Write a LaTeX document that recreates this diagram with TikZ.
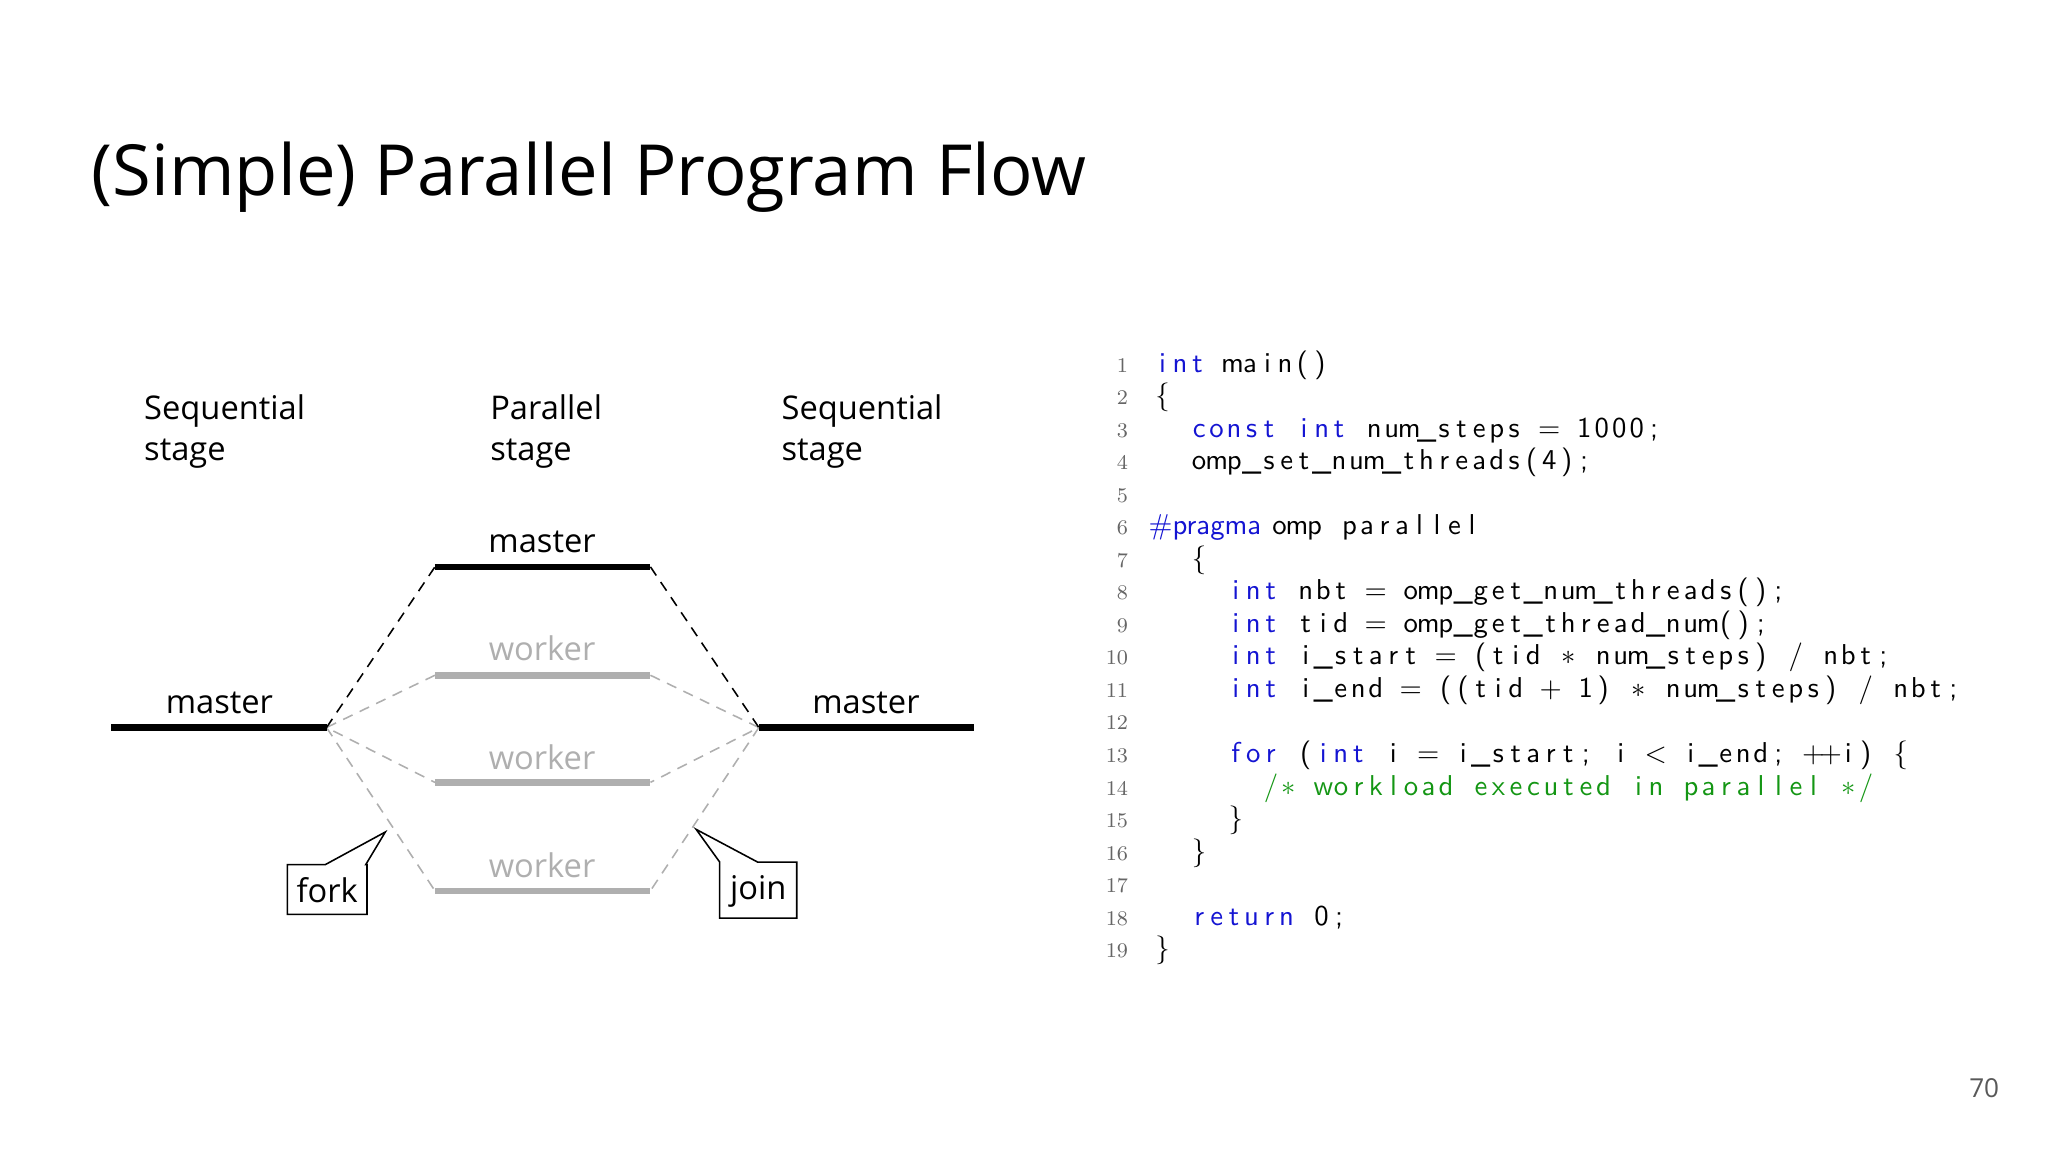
\documentclass[tikz,border=0pt]{standalone}
\usepackage{fontspec}
\setmainfont{Open Sans}
\newfontfamily\lmroman{Latin Modern Roman}
\newfontfamily\lmsans{Latin Modern Sans}
\definecolor{kw}{RGB}{20,20,210}
\definecolor{cm}{RGB}{20,150,20}
\definecolor{wk}{RGB}{175,175,175}
\newlength\cw \setlength\cw{6.7pt}
\makeatletter
\def\cl#1{\cl@#1\relax}
\def\cl@#1{\ifx\relax#1\else\makebox[\cw]{#1}\expandafter\cl@\fi}
\makeatother
\tikzset{
  hd/.style={anchor=north west,align=left,font=\fontsize{12.5}{15.5}\selectfont,inner sep=0pt},
  lbl/.style={font=\fontsize{12.5}{14}\selectfont,inner sep=0pt,anchor=base},
  mline/.style={line width=2.5pt,black},
  wline/.style={line width=2.5pt,wk},
  bdash/.style={black,line width=0.6pt,dash pattern=on 4pt off 3pt},
  gdash/.style={wk,line width=0.6pt,dash pattern=on 4pt off 3pt},
  call/.style={draw=black,fill=white,line width=0.6pt},
  lno/.style={anchor=base east,font=\lmroman\fontsize{8}{9}\selectfont,text=black!60,inner sep=0pt},
  code/.style={anchor=base west,font=\lmsans\fontsize{11}{12}\selectfont,inner sep=0pt},
}
\begin{document}
\begin{tikzpicture}[x=0.5pt,y=-0.5pt]
\useasboundingbox (0,0) rectangle (1568,882);
\node[anchor=base west,inner sep=0pt,font=\fontsize{27}{30}\selectfont] (title) at (70,150) {(Simple) Parallel Program Flow};
\node[hd] (h1) at (110,302) {Sequential\\stage};
\node[hd] (h2) at (375,302) {Parallel\\stage};
\node[hd] (h3) at (598,302) {Sequential\\stage};
% lines
\coordinate (lm1) at (85,557); \coordinate (lm2) at (250,557);
\coordinate (tm1) at (333,434); \coordinate (tm2) at (498,434);
\coordinate (w1a) at (333,517); \coordinate (w1b) at (498,517);
\coordinate (w2a) at (333,599); \coordinate (w2b) at (498,599);
\coordinate (w3a) at (333,682); \coordinate (w3b) at (498,682);
\coordinate (rm1) at (581,557); \coordinate (rm2) at (746,557);
\draw[gdash] (w1a) -- (lm2) -- (w2a); \draw[gdash] (lm2) -- (w3a);
\draw[gdash] (w1b) -- (rm1) -- (w2b); \draw[gdash] (rm1) -- (w3b);
\draw[bdash] (lm2) -- (tm1); \draw[bdash] (tm2) -- (rm1);
\draw[mline] (lm1) -- (lm2); \draw[mline] (tm1) -- (tm2); \draw[mline] (rm1) -- (rm2);
\draw[wline] (w1a) -- (w1b); \draw[wline] (w2a) -- (w2b); \draw[wline] (w3a) -- (w3b);
\node[lbl] (ml) at (168,546) {master};
\node[lbl] (mt) at (415,423) {master};
\node[lbl] (mr) at (663,546) {master};
\node[lbl,text=wk] (wl1) at (415,506) {worker};
\node[lbl,text=wk] (wl2) at (415,589) {worker};
\node[lbl,text=wk] (wl3) at (415,672) {worker};
% callouts
\draw[call] (220,662) -- (249,662) -- (295,637) -- (280,662) -- (281,662) -- (281,700) -- (220,700) -- cycle;
\node[lbl] (fork) at (250.5,691) {fork};
\draw[call] (551,660) -- (533,635) -- (580,660) -- (610,660) -- (610,703) -- (551,703) -- cycle;
\node[lbl] (join) at (580.5,689) {join};
% code
\foreach \n [count=\i from 0] in {1,...,19}
  \node[lno] (ln\n) at (864,285+24.9*\i) {\n};
\node[code] (c1) at (883,285) {\color{kw}\cl{int~}\color{black}\cl{main()}};
\node[code] (c2) at (883,309.9) {\cl{\{}};
\node[code] (c3) at (911,334.8) {\color{kw}\cl{const~int~}\color{black}\cl{num\_steps~{$=$}~1000;}};
\node[code] (c4) at (911,359.7) {\cl{omp\_set\_num\_threads(4);}};
\node[code] (c6) at (879,409.5) {\color{kw}\#pragma\color{black}~\cl{omp~parallel}};
\node[code] (c7) at (911,434.4) {\cl{\{}};
\node[code] (c8) at (939,459.3) {\color{kw}\cl{int~}\color{black}\cl{nbt~{$=$}~omp\_get\_num\_threads();}};
\node[code] (c9) at (939,484.2) {\color{kw}\cl{int~}\color{black}\cl{tid~{$=$}~omp\_get\_thread\_num();}};
\node[code] (c10) at (939,509.1) {\color{kw}\cl{int~}\color{black}\cl{i\_start~{$=$}~(tid~{$*$}~num\_steps)~/~nbt;}};
\node[code] (c11) at (939,534) {\color{kw}\cl{int~}\color{black}\cl{i\_end~{$=$}~((tid~{$+$}~1)~{$*$}~num\_steps)~/~nbt;}};
\node[code] (c13) at (939,583.8) {\color{kw}\cl{for~}\color{black}\cl{(}\color{kw}\cl{int~}\color{black}\cl{i~{$=$}~i\_start;~i~{$<$}~i\_end;~++i)~\{}};
\node[code] (c14) at (966,608.7) {\color{cm}\cl{/{$*$}~workload~executed~in~parallel~{$*$}/}};
\node[code] (c15) at (939,633.6) {\cl{\}}};
\node[code] (c16) at (911,658.5) {\cl{\}}};
\node[code] (c18) at (911,708.3) {\color{kw}\cl{return~}\color{black}\cl{0;}};
\node[code] (c19) at (883,733.2) {\cl{\}}};
\node[anchor=base east,inner sep=0pt,font=\fontsize{10}{12}\selectfont,text=black!65] (pg) at (1531,840) {70};
\end{tikzpicture}
\end{document}
